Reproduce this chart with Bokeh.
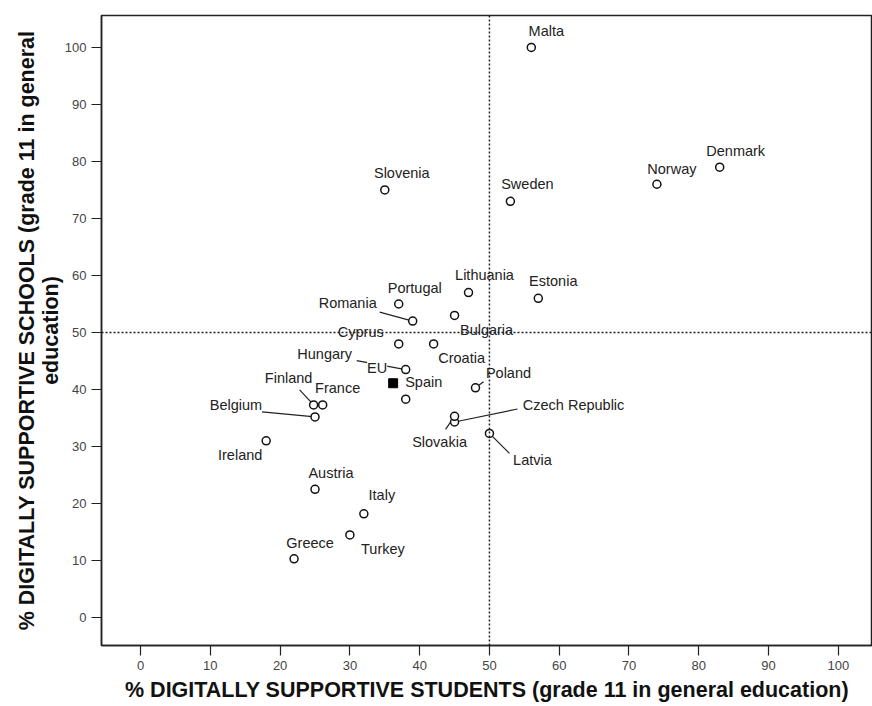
from bokeh.plotting import figure
from bokeh.models import ColumnDataSource, Range1d, Span, FixedTicker
from bokeh.embed import file_html
from bokeh.resources import INLINE
from bokeh.core.properties import value

# ---- data ----
countries = ["Malta", "Denmark", "Norway", "Slovenia", "Sweden", "Lithuania", "Estonia",
             "Portugal", "Romania", "Bulgaria", "Cyprus", "Croatia", "Hungary", "Spain",
             "Poland", "Finland", "France", "Belgium", "Ireland", "Czech Republic",
             "Slovakia", "Latvia", "Austria", "Italy", "Turkey", "Greece"]
students = [56, 83, 74, 35, 53, 47, 57, 37, 39, 45, 37, 42, 38, 38, 48, 24.8, 26.1, 25,
            18, 45, 45, 50, 25, 32, 30, 22]
schools = [100, 79, 76, 75, 73, 57, 56, 55, 52, 53, 48, 48, 43.5, 38.3, 40.3, 37.3, 37.3,
           35.2, 31, 34.3, 35.3, 32.3, 22.5, 18.2, 14.5, 10.3]
eu_label = ["EU"]
eu_students = [36.2]
eu_schools = [41.1]
ticks = [0, 10, 20, 30, 40, 50, 60, 70, 80, 90, 100]
ref_students = 50
ref_schools = 50

# ---- label layout (pixel offsets from the point, screen y downward) ----
lab_dx = [15, 16, 15, 17, 17, 16, 15, 16, -65, 32, -38, 28, -81, 18, 33, -25, 15, -79,
          -26, 119, -15, 43, 16, 18, 33, 16]
lab_dy = [-16, -16, -15, -17, -17, -18, -17, -16, -18, 15, -12, 14, -16, -17, -15, -27,
          -17, -12, 14, -17, 26, 27, -16, -19, 14, -16]
lead = {"Romania": (-33, -9), "Hungary": (-49, -9), "Poland": (8, -6), "Finland": (-14, -15),
        "Belgium": (-53, -5), "Czech Republic": (63, -13), "Slovakia": (-9, 13),
        "Latvia": (20, 20)}

W, H = 872, 706
BL, BR, BT, BB = 101, 0, 15, 61
x0, x1 = -5.6, 104.9
y0, y1 = -4.9, 105.6
sx = (W - BL - BR) / (x1 - x0)
sy = (H - BT - BB) / (y1 - y0)

p = figure(width=W, height=H, output_backend="svg", toolbar_location=None,
           x_range=Range1d(x0, x1), y_range=Range1d(y0, y1),
           min_border_left=BL, min_border_right=BR, min_border_top=BT, min_border_bottom=BB)
p.background_fill_color = "white"
p.border_fill_color = "white"
p.outline_line_color = "#222222"
p.outline_line_width = 1.5
p.xgrid.visible = False
p.ygrid.visible = False

for ax in (p.xaxis[0], p.yaxis[0]):
    ax.ticker = FixedTicker(ticks=ticks)
    ax.major_tick_out = 10
    ax.major_tick_in = 0
    ax.minor_tick_line_color = None
    ax.axis_line_color = "#222222"
    ax.axis_line_width = 1.5
    ax.major_tick_line_color = "#222222"
    ax.major_tick_line_width = 1.2
    ax.major_label_text_font = "Liberation Sans"
    ax.major_label_text_font_size = "13px"
    ax.major_label_text_color = "#444444"
    ax.axis_label_text_font = "Liberation Sans"
    ax.axis_label_text_font_style = "bold"
    ax.axis_label_text_font_size = "21.5px"
    ax.axis_label_text_color = "#111111"
    ax.axis_label_text_line_height = 1.0

p.xaxis.axis_label = "% DIGITALLY SUPPORTIVE STUDENTS (grade 11 in general education)"
p.yaxis.axis_label = "% DIGITALLY SUPPORTIVE SCHOOLS (grade 11 in general\neducation)"
p.xaxis.major_label_standoff = 5
p.xaxis.axis_label_standoff = 5
p.yaxis.major_label_standoff = 5
p.yaxis.axis_label_standoff = -1

p.add_layout(Span(location=ref_students, dimension="height", line_color="#222222",
                  line_dash="2 2", line_width=1.5))
p.add_layout(Span(location=ref_schools, dimension="width", line_color="#222222",
                  line_dash="2 2", line_width=1.5))

# leader lines
lx0, ly0, lx1, ly1 = [], [], [], []
for c, xs, ys in zip(countries, students, schools):
    if c in lead:
        dx, dy = lead[c]
        lx0.append(xs); ly0.append(ys)
        lx1.append(xs + dx / sx); ly1.append(ys - dy / sy)
p.segment(x0=lx0, y0=ly0, x1=lx1, y1=ly1, line_color="#222222", line_width=1.2)

src = ColumnDataSource(dict(x=students, y=schools, name=countries, dx=lab_dx, dy=lab_dy))
p.scatter("x", "y", source=src, marker="circle", size=8, fill_color="white",
          line_color="#111111", line_width=1.5)
p.scatter(eu_students, eu_schools, marker="square", size=9, fill_color="black",
          line_color="black")

p.text("x", "y", text="name", source=src, x_offset="dx", y_offset="dy",
       text_align="center", text_baseline="middle", text_font=value("Liberation Sans"),
       text_font_size="14.5px", text_color="#222222")
eu_src = ColumnDataSource(dict(x=eu_students, y=eu_schools, t=eu_label))
p.text("x", "y", text="t", source=eu_src, x_offset=-16, y_offset=-15,
       text_align="center", text_baseline="middle", text_font=value("Liberation Sans"),
       text_font_size="14.5px", text_color="#222222", background_fill_color="white")

open("out.html", "w").write(file_html(p, INLINE))
